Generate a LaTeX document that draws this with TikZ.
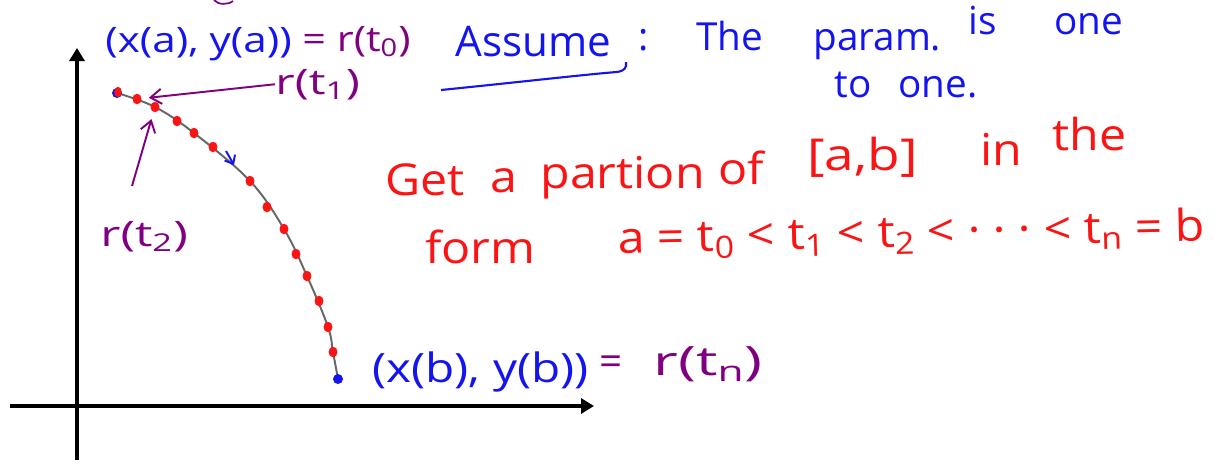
\documentclass[tikz,border=0pt]{standalone}
\usepackage{fontspec}
\setmainfont{Open Sans}
\usetikzlibrary{arrows.meta,positioning,shapes.geometric}
\definecolor{inkblue}{RGB}{20,20,240}
\definecolor{inkpurple}{RGB}{128,0,128}
\definecolor{inkred}{RGB}{250,20,20}
\tikzset{
	ink/.style={inner sep=0pt, anchor=base west, font=\fontsize{20}{24}\selectfont},
	bluetxt/.style={ink, text=inkblue},
	purptxt/.style={ink, text=inkpurple},
	redtxt/.style={ink, text=inkred, font=\fontsize{25}{30}\selectfont, xscale=1.1},
	reddot/.style={ellipse, fill=inkred, inner sep=0pt, minimum width=1.8mm, minimum height=2.1mm},
	bluedot/.style={circle, fill=inkblue, inner sep=0pt, minimum size=2mm},
	axisarr/.style={-{Triangle[length=2.6mm,width=3mm]}, line width=2.8pt},
	purparr/.style={-{Straight Barb[length=2.2mm,width=3mm]}, inkpurple, line width=1.1pt}
}

\begin{document}
\begin{tikzpicture}[x=0.02cm, y=-0.02cm]
	\useasboundingbox (0,0) rectangle (1224,464);
	% axes
	\coordinate (o) at (77,406);
	\draw[axisarr] (o |- 0,460) -- (o |- 0,48);
	\draw[axisarr] (10,406) -- (594,406);
	% the curve and its partition points
	\draw[gray!80!black, line width=1.1pt] plot[smooth, tension=0.6] coordinates {(117,93) (155,107) (194,133) (250,181) (284,229) (307,276) (328,327) (333,352) (338,379)};
	\node[bluedot] (d1) at (117,93) {};
	\node[reddot, minimum width=1.5mm] at (118,92) {};
	\foreach \px/\py [count=\i from 2] in {137/99, 155/107, 177/121, 194/133, 213/147, 250/181, 267/207, 284/229, 296/254, 307/276, 319/301, 328/327, 333/352}
		\node[reddot] (d\i) at (\px,\py) {};
	\node[bluedot] (dn) at (338,379) {};
	\draw[inkblue, line width=1.1pt, -{Straight Barb[length=1.4mm,width=2.4mm]}] (226,151) -- (234,165);
	\draw[inkpurple, line width=1pt] (214,0) .. controls (218,5) and (228,5) .. (233,1);
	% labels at the ends
	\node[bluetxt, xscale=1.2] (xa) at (105,52) {(x(a), y(a))};
	\node[purptxt, xscale=1.18] (rt0) at (302,51) {= r(t\textsubscript{0})};
	\node[purptxt, xscale=1.35] (rt1) at (275,94) {r(t\textsubscript{1})};
	\node[purptxt, xscale=1.4] (rt2) at (100,246) {r(t\textsubscript{2})};
	\node[bluetxt, font=\fontsize{23}{26}\selectfont, xscale=1.18] (xb) at (372,382) {(x(b), y(b))};
	\node[purptxt, font=\fontsize{23}{26}\selectfont] (eqn) at (599,375) {=};
	\node[purptxt, font=\fontsize{23}{26}\selectfont, xscale=1.5] (rtn) at (653,375) {r(t\textsubscript{n})};
	\coordinate (t2tail) at (132,186);
	\draw[purparr, shorten >=4pt] (rt1.west) -- (d2);
	\draw[purparr, shorten >=4pt] (t2tail) -- (d3);
	% assumption
	\node[bluetxt, font=\fontsize{24}{28}\selectfont] (assume) at (455,56) {Assume};
	\draw[inkblue, line width=1.2pt] (441,90) .. controls (520,82) and (590,74) .. (617,72) .. controls (624,71) and (627,68) .. (626,62);
	\node[bluetxt, font=\fontsize{22}{26}\selectfont] (colon) at (638,50) {:};
	\node[bluetxt, font=\fontsize{22}{26}\selectfont] (the) at (696,50) {The};
	\node[bluetxt, font=\fontsize{22}{26}\selectfont] (param) at (813,50) {param.};
	\node[bluetxt, font=\fontsize{22}{26}\selectfont] (is) at (968,34) {is};
	\node[bluetxt, font=\fontsize{22}{26}\selectfont] (one) at (1054,34) {one};
	\node[bluetxt, font=\fontsize{22}{26}\selectfont] (toone) at (834,97) {to\hspace{0.7em}one.};
	% partition
	\node[redtxt] (get) at (385,195) {Get};
	\node[redtxt] (a) at (490,192) {a};
	\node[redtxt] (partion) at (540,188) {partion};
	\node[redtxt] (of) at (718,184) {of};
	\node[redtxt, xscale=1.1] (ab) at (807,170) {[a,b]};
	\node[redtxt] (in) at (980,165) {in};
	\node[redtxt] (thew) at (1052,150) {the};
	\node[redtxt] (form) at (425,263) {form};
	\node[redtxt, rotate=1.3] (ts) at (618,253) {a = t\textsubscript{0} < t\textsubscript{1} < t\textsubscript{2} < · · · < t\textsubscript{n} = b};
\end{tikzpicture}
\end{document}
